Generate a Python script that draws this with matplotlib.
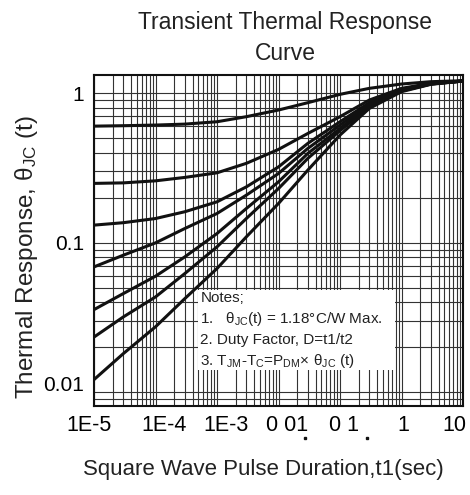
import matplotlib
matplotlib.use("Agg")
import matplotlib.pyplot as plt
from matplotlib.ticker import LogLocator, NullFormatter
import matplotlib.transforms as mtransforms

plt.rcParams['font.family'] = ['Liberation Sans', 'DejaVu Sans']
plt.rcParams['mathtext.fontset'] = 'custom'
plt.rcParams['mathtext.rm'] = 'Liberation Sans'
plt.rcParams['mathtext.it'] = 'Liberation Sans:italic'

# pulse duration (s)
t = [1e-5, 3e-5, 1e-4, 3e-4, 1e-3, 3e-3, 1e-2, 3e-2, 0.1, 0.3, 1, 3, 10]

# normalized thermal response for each duty factor, top to bottom
d50 = [0.601, 0.605, 0.611, 0.620, 0.643, 0.695, 0.770, 0.862, 0.980, 1.075, 1.149, 1.191, 1.209]
d20 = [0.249, 0.251, 0.259, 0.273, 0.293, 0.339, 0.420, 0.537, 0.695, 0.898, 1.075, 1.161, 1.203]
d10 = [0.131, 0.136, 0.145, 0.161, 0.1875, 0.236, 0.321, 0.461, 0.643, 0.862, 1.058, 1.161, 1.203]
d05 = [0.0689, 0.0825, 0.0997, 0.1244, 0.1567, 0.2078, 0.290, 0.4265, 0.611, 0.844, 1.047, 1.155, 1.203]
d02 = [0.0357, 0.0457, 0.0597, 0.0804, 0.1151, 0.1692, 0.255, 0.395, 0.580, 0.827, 1.037, 1.149, 1.203]
d01 = [0.0234, 0.0319, 0.0434, 0.0622, 0.0938, 0.145, 0.230, 0.366, 0.560, 0.810, 1.031, 1.149, 1.203]
single = [0.01216, 0.01814, 0.0274, 0.0423, 0.0672, 0.1094, 0.1828, 0.3055, 0.5237, 0.789, 1.021, 1.143, 1.203]
curves = [d50, d20, d10, d05, d02, d01, single]

# x labels as printed on the original (slightly off the decades)
xlabels = ["1E-5", "1E-4", "1E-3", "0 01", "0 1", "1", "10"]
xlabel_pos = [10**-5.081, 10**-3.862, 10**-2.854, 10**-1.862, 10**-0.935, 10**0.024, 10**0.854]

yticks = [0.01, 0.1, 1]
yticklabels = ["0.01", "0.1", "1"]

fig = plt.figure(figsize=(4.7, 4.95), dpi=100)
ax = fig.add_axes([94/470, 1-406/495, 369/470, 331/495])

for c in curves:
    ax.plot(t, c, color='#111111', lw=2.2, solid_joinstyle='round', zorder=3)

ax.set_xscale('log')
ax.set_yscale('log')
ax.set_xlim(1e-5, 10)
ax.set_ylim(0.0081, 1.32)

sub = [1, 2, 3, 4, 5, 6, 7, 8, 9]
ax.xaxis.set_major_locator(LogLocator(base=10, subs=sub, numticks=50))
ax.xaxis.set_minor_locator(LogLocator(base=10, subs=sub, numticks=50))
ax.xaxis.set_major_formatter(NullFormatter())
ax.yaxis.set_minor_locator(LogLocator(base=10, subs=sub, numticks=50))
ax.yaxis.set_minor_formatter(NullFormatter())
ax.set_yticks(yticks)
ax.set_yticklabels(yticklabels)
ax.tick_params(which='both', length=0)
ax.tick_params(axis='y', labelsize=15, pad=7)
# the printed "0.01" sits a bit above its grid line
lab0 = ax.get_yticklabels()[0]
lab0.set_transform(lab0.get_transform() + mtransforms.ScaledTranslation(0, 0.09, fig.dpi_scale_trans))
ax.grid(True, which='both', color='#333333', lw=0.8)
ax.set_axisbelow(True)
for s in ax.spines.values():
    s.set_linewidth(1.5)
    s.set_color('#111111')

trans = mtransforms.blended_transform_factory(ax.transData, ax.transAxes)
for lab, xp in zip(xlabels, xlabel_pos):
    ax.text(xp, -0.027, lab, transform=trans, ha='center', va='top', fontsize=15.5)
# stray decimal points of the original
ax.plot([10**-1.562, 10**-0.554], [-0.097, -0.097], transform=trans, ls='none',
        marker='s', ms=1.9, color='#111111', clip_on=False)

# notes box
ax.add_patch(plt.Rectangle((0.282, 0.109), 0.534, 0.241, transform=ax.transAxes,
                           facecolor='white', edgecolor='none', zorder=4))
notes = ["Notes;",
         "1.   θ$_{\\rm JC}$(t) = 1.18°C/W Max.",
         "2. Duty Factor, D=t1/t2",
         "3. T$_{\\rm JM}$-T$_{\\rm C}$=P$_{\\rm DM}$× θ$_{\\rm JC}$ (t)"]
for i, line in enumerate(notes):
    ax.text(0.288, 0.325 - i*0.063, line, transform=ax.transAxes, ha='left', va='center',
            fontsize=11, color='#222222', zorder=5)

fig.text(285/470, 1-38/495, "Transient Thermal Response\nCurve", ha='center', va='center',
         fontsize=16.5, linespacing=1.45, color='#222222')
fig.text(27/470, 1-257/495, "Thermal Response, θ$_{\\rm JC}$ (t)", rotation=90,
         ha='center', va='center', fontsize=17.5, color='#222222')
fig.text(263/470, 1-470/495, "Square Wave Pulse Duration,t1(sec)", ha='center', va='center',
         fontsize=16, color='#222222')

fig.savefig("out.png", dpi=100)
